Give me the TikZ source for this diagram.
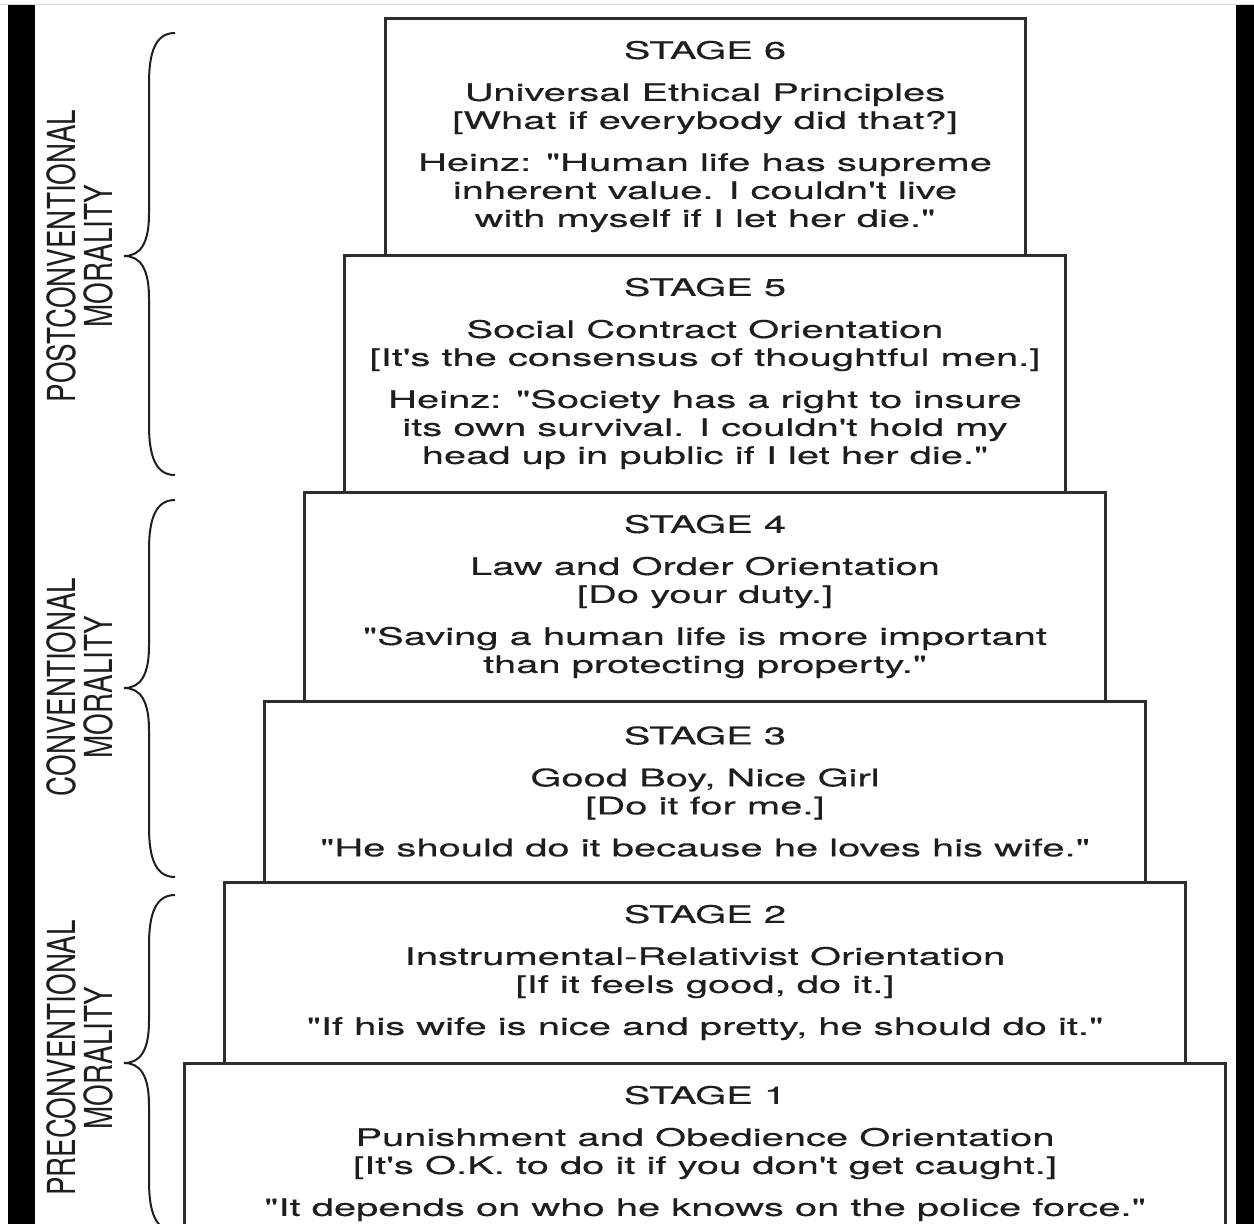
\documentclass[tikz,border=0pt]{standalone}
\usepackage{fontspec}
\usepackage{xcolor}
\usetikzlibrary{positioning}
\newfontfamily\stagefont{TeX Gyre Heros}[FakeStretch=1.65, FakeBold=0.3]
\newfontfamily\levelfont{TeX Gyre Heros}[FakeStretch=0.72]
\definecolor{boxgray}{RGB}{45,45,45}
\definecolor{inkgray}{RGB}{30,30,30}

% curly brace: top tip, middle point, bottom tip (y values)
\newcommand{\moralbrace}[3]{%
  \draw[braceline] (175,#1) .. controls (156,#1) and (149,#1+18) .. (149,#1+50)
    -- (149,#2-42) .. controls (149,#2-12) and (140,#2) .. (124,#2)
    .. controls (140,#2) and (149,#2+12) .. (149,#2+42)
    -- (149,#3-50) .. controls (149,#3-18) and (156,#3) .. (175,#3);}

\begin{document}
\begin{tikzpicture}[
    x=1pt, y=-1pt,
    node distance=0pt,
    stagebox/.style={rectangle, draw=boxgray, line width=3pt, outer sep=0pt, inner sep=0pt, align=center, text=inkgray, font={\stagefont\fontsize{24.2}{28}\selectfont}},
    levellabel/.style={rotate=90, align=center, text=inkgray, font={\levelfont\fontsize{38.6}{37}\selectfont}},
    braceline/.style={draw=inkgray, line width=2pt}
]
\useasboundingbox (0,0) rectangle (1254,1224);
\clip (0,0) rectangle (1254,1224);

% Frame bars
\draw[black!15, line width=1pt] (0,4) -- (1254,4);
\fill[black] (8,5) rectangle (35,1224);
\fill[black] (1236,5) rectangle (1254,1224);

% Postconventional stages
\node[stagebox, minimum width=640pt, minimum height=237pt, anchor=north] (stage6) at (705,18) {STAGE 6\\[14pt]
  Universal Ethical Principles\\{[What if everybody did that?]}\\[14pt]
  Heinz: "Human life has supreme\\inherent value. I couldn't live\\with myself if I let her die."};
\node[stagebox, minimum width=721pt, minimum height=237pt, below=of stage6] (stage5) {STAGE 5\\[14pt]
  Social Contract Orientation\\{[It's the consensus of thoughtful men.]}\\[14pt]
  Heinz: "Society has a right to insure\\its own survival. I couldn't hold my\\head up in public if I let her die."};

% Conventional stages
\node[stagebox, minimum width=801pt, minimum height=209pt, below=of stage5] (stage4) {STAGE 4\\[14pt]
  Law and Order Orientation\\{[Do your duty.]}\\[14pt]
  "Saving a human life is more important\\than protecting property."};
\node[stagebox, minimum width=881pt, minimum height=181pt, below=of stage4] (stage3) {STAGE 3\\[14pt]
  Good Boy, Nice Girl\\{[Do it for me.]}\\[14pt]
  "He should do it because he loves his wife."};

% Preconventional stages
\node[stagebox, minimum width=961pt, minimum height=181pt, below=of stage3] (stage2) {STAGE 2\\[14pt]
  Instrumental-Relativist Orientation\\{[If it feels good, do it.]}\\[14pt]
  "If his wife is nice and pretty, he should do it."};
\node[stagebox, minimum width=1041pt, minimum height=181pt, below=of stage2] (stage1) {STAGE 1\\[14pt]
  Punishment and Obedience Orientation\\{[It's O.K. to do it if you don't get caught.]}\\[14pt]
  "It depends on who he knows on the police force."};

% Level braces
\moralbrace{33}{256}{475}
\moralbrace{500}{688}{877}
\moralbrace{895}{1063}{1231}

% Level labels
\node[levellabel] (postlevel) at (80,256) {POSTCONVENTIONAL\\MORALITY};
\node[levellabel] (convlevel) at (80,687) {CONVENTIONAL\\MORALITY};
\node[levellabel] (prelevel) at (80,1058) {PRECONVENTIONAL\\MORALITY};

\end{tikzpicture}
\end{document}
